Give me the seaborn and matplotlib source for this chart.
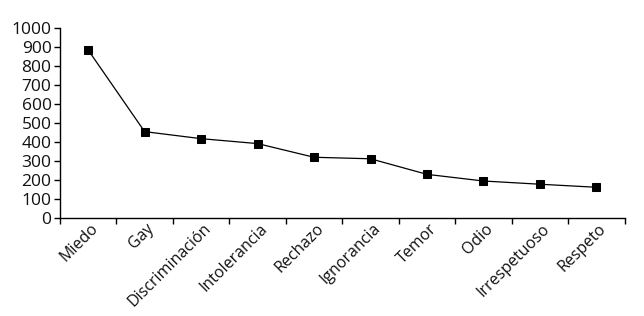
import matplotlib
matplotlib.use("Agg")
import matplotlib.pyplot as plt
import seaborn as sns
import pandas as pd
import numpy as np

# datos
palabras = ["Miedo", "Gay", "Discriminación", "Intolerancia", "Rechazo",
            "Ignorancia", "Temor", "Odio", "Irrespetuoso", "Respeto"]
frecuencia = [885, 455, 418, 392, 320, 312, 230, 195, 178, 162]

df = pd.DataFrame({"Palabra": palabras, "Frecuencia": frecuencia})
df["pos"] = np.arange(len(palabras))

sns.set_style("white")
plt.rcParams["font.family"] = ["Open Sans", "DejaVu Sans"]

fig = plt.figure(figsize=(6.44, 3.16), dpi=100)
ax = fig.add_axes([0.093, 0.31, 0.877, 0.601])

sns.lineplot(data=df, x="pos", y="Frecuencia", ax=ax, color="black",
             linewidth=0.9, marker="s", markersize=6, markeredgecolor="black")

ax.set_xlim(-0.5, len(palabras) - 0.5)
ax.set_ylim(0, 1000)
ax.set_yticks(range(0, 1001, 100))
ax.set_xticks(df["pos"] + 0.03)
ax.set_xticklabels(palabras, rotation=45, ha="right", rotation_mode="anchor")
ax.set_xticks(np.arange(-0.5, len(palabras)), minor=True)
ax.tick_params(axis="x", which="major", length=0, pad=2, labelsize=11.5,
               labelcolor="#111111")
ax.tick_params(axis="x", which="minor", length=4, width=1, color="black",
               direction="out", bottom=True)
ax.tick_params(axis="y", length=4, width=1, color="black", direction="out",
               left=True, labelsize=12.5, pad=2, labelcolor="#111111")
ax.set_xlabel("")
ax.set_ylabel("")

sns.despine(ax=ax)
for s in ["left", "bottom"]:
    ax.spines[s].set_color("black")
    ax.spines[s].set_linewidth(1)

fig.savefig("out.png", dpi=100)
